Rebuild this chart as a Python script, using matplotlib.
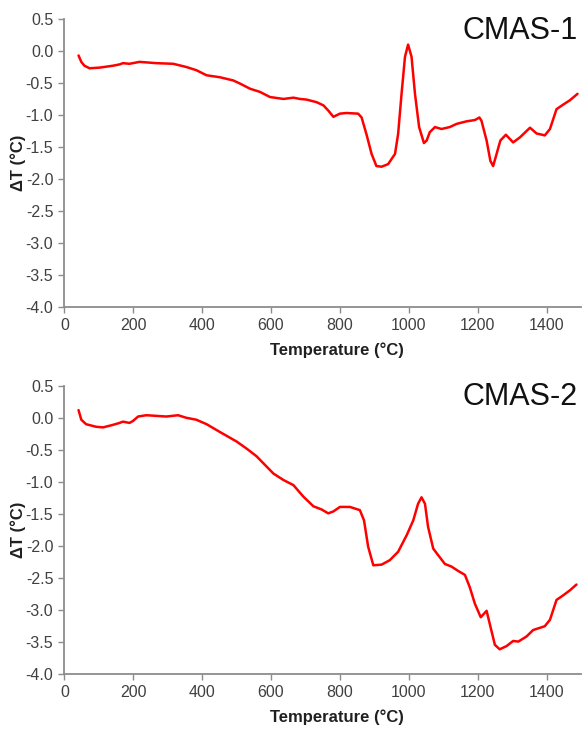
import matplotlib
matplotlib.use("Agg")
import matplotlib.pyplot as plt

plt.rcParams['font.family'] = ['Liberation Sans', 'DejaVu Sans']

# CMAS-1 DTA curve
t1 = [41, 49, 58, 73, 102, 141, 160, 170, 189, 218, 267, 316, 354, 383, 413, 451, 490, 510,
      539, 568, 597, 636, 665, 684, 703, 732, 752, 766, 781, 800, 819, 853, 863, 877, 892,
      906, 921, 940, 960, 969, 979, 989, 998, 1008, 1018, 1030, 1044, 1052, 1061, 1076,
      1095, 1119, 1139, 1168, 1192, 1205, 1211, 1226, 1237, 1245, 1255, 1266, 1282, 1303,
      1323, 1352, 1371, 1395, 1410, 1429, 1448, 1468, 1490]
d1 = [-0.07, -0.17, -0.23, -0.27, -0.26, -0.23, -0.21, -0.19, -0.20, -0.17, -0.19, -0.20,
      -0.25, -0.30, -0.38, -0.41, -0.46, -0.51, -0.59, -0.64, -0.72, -0.75, -0.73, -0.75,
      -0.76, -0.80, -0.85, -0.93, -1.03, -0.98, -0.97, -0.98, -1.04, -1.30, -1.61, -1.80,
      -1.81, -1.77, -1.61, -1.30, -0.67, -0.09, 0.10, -0.09, -0.67, -1.19, -1.44, -1.40,
      -1.27, -1.19, -1.22, -1.19, -1.14, -1.10, -1.08, -1.04, -1.09, -1.40, -1.72, -1.80,
      -1.61, -1.40, -1.31, -1.43, -1.35, -1.20, -1.29, -1.32, -1.22, -0.91, -0.84, -0.77,
      -0.67]

# CMAS-2 DTA curve
t2 = [41, 49, 63, 92, 112, 141, 160, 170, 189, 199, 214, 238, 267, 296, 330, 354, 383, 413,
      451, 500, 529, 558, 587, 607, 636, 665, 694, 723, 747, 766, 781, 800, 829, 858, 870,
      882, 897, 921, 945, 969, 994, 1013, 1027, 1037, 1047, 1056, 1071, 1085, 1105, 1124,
      1144, 1163, 1177, 1192, 1209, 1226, 1235, 1250, 1264, 1284, 1303, 1318, 1342, 1361,
      1395, 1410, 1429, 1448, 1468, 1487]
d2 = [0.12, -0.03, -0.10, -0.14, -0.15, -0.11, -0.08, -0.06, -0.08, -0.05, 0.02, 0.04, 0.03,
      0.02, 0.04, 0.00, -0.03, -0.10, -0.22, -0.37, -0.48, -0.60, -0.76, -0.87, -0.97,
      -1.05, -1.23, -1.38, -1.43, -1.49, -1.46, -1.39, -1.39, -1.44, -1.60, -2.01, -2.30,
      -2.29, -2.22, -2.09, -1.83, -1.60, -1.34, -1.24, -1.34, -1.70, -2.04, -2.14, -2.28,
      -2.32, -2.39, -2.45, -2.64, -2.90, -3.11, -3.01, -3.21, -3.54, -3.61, -3.56, -3.48,
      -3.49, -3.41, -3.31, -3.25, -3.15, -2.84, -2.77, -2.69, -2.60]

labels = ["CMAS-1", "CMAS-2"]
xticks = [0, 200, 400, 600, 800, 1000, 1200, 1400]
yticks = [0.5, 0.0, -0.5, -1.0, -1.5, -2.0, -2.5, -3.0, -3.5, -4.0]

fig = plt.figure(figsize=(5.83, 7.30), dpi=100)
axes = [fig.add_axes([0.1105, 0.5799, 0.886, 0.394]),
        fig.add_axes([0.1105, 0.0763, 0.886, 0.3953])]

for ax, t, d, lab in zip(axes, [t1, t2], [d1, d2], labels):
    ax.plot(t, d, color='#ff0000', lw=1.8, solid_joinstyle='round', solid_capstyle='round')
    ax.set_xlim(0, 1500)
    ax.set_ylim(-4.0, 0.5)
    ax.set_xticks(xticks)
    ax.set_yticks(yticks)
    ax.set_yticklabels([f"{v:.1f}" for v in yticks])
    for s in ['top', 'right']:
        ax.spines[s].set_visible(False)
    for s in ['left', 'bottom']:
        ax.spines[s].set_color('#8c8c8c')
        ax.spines[s].set_linewidth(1.3)
    ax.tick_params(axis='both', direction='out', length=4, width=1.0, color='#8c8c8c',
                   labelsize=11.5, labelcolor='#404040', pad=4)
    ax.set_xlabel("Temperature (°C)", fontsize=12, fontweight='bold', color='#202020', va='center')
    ax.xaxis.set_label_coords(0.528, -0.150)
    ax.set_ylabel("ΔT (°C)", fontsize=12, fontweight='bold', color='#202020', va='center')
    ax.yaxis.set_label_coords(-0.090, 0.5)
    ax.text(1491, 0.32, lab, fontsize=22, ha='right', va='center', color='#111111')

fig.savefig("out.png", dpi=100)
